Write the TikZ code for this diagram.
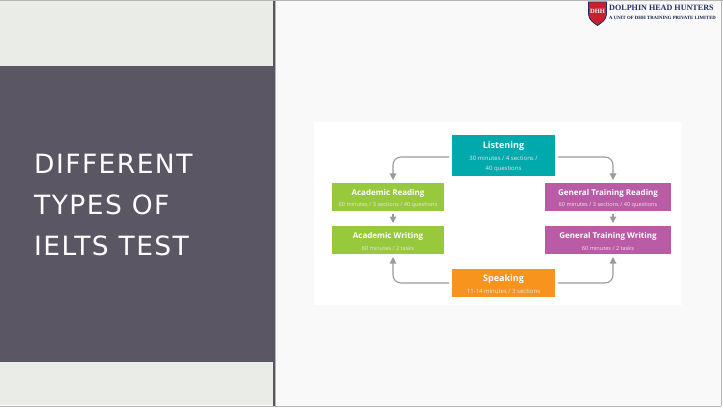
\documentclass[tikz,border=0pt]{standalone}
\usepackage{fontspec}
\setmainfont{Open Sans}
\newfontfamily\titlefont[LetterSpace=5.5]{DejaVu Sans}
\newfontfamily\logofont{Liberation Serif}
\usetikzlibrary{arrows.meta}
\definecolor{slatebg}{HTML}{5A5663}
\definecolor{palebg}{HTML}{EAECE8}
\definecolor{slidebg}{HTML}{F9F9F9}
\definecolor{edgegray}{HTML}{B4B4B4}
\definecolor{listenteal}{HTML}{00A9AC}
\definecolor{acadgreen}{HTML}{98C83C}
\definecolor{generalpink}{HTML}{BA5BA5}
\definecolor{speakorange}{HTML}{F7941D}
\definecolor{flowgray}{HTML}{9A9A9A}
\definecolor{logored}{HTML}{C8202C}
\definecolor{logonavy}{HTML}{1F2F6B}
\tikzset{
  testbox/.style={inner sep=0pt, outer sep=0pt, align=center, text=white, font=\bfseries\fontsize{8}{11}\selectfont},
  flow/.style={->, flowgray, line width=1.1pt, rounded corners=8pt, shorten <=3pt, shorten >=3pt},
}
\newcommand{\headline}[1]{\rule{0pt}{9.5pt}#1}
\newcommand{\subline}[1]{{\fontsize{5.6}{9}\selectfont\mdseries\color{white!82!gray}#1}}
\newcommand{\bigsubline}[1]{{\fontsize{6}{9}\selectfont\mdseries\color{white!82!gray}#1}}
\begin{document}
\begin{tikzpicture}[x=1pt, y=-1pt, >={Stealth[inset=0pt, length=6.5pt, width=6.5pt]}]
    \useasboundingbox (0, 0) rectangle (723, 409);
    \fill[white] (0, 0) rectangle (723, 409);

    \fill[slidebg] (276, 1) rectangle (721, 405);
    \fill[palebg] (0, 1) rectangle (272.5, 405);
    \fill[slatebg] (0, 66) rectangle (272.5, 362);
    \fill[slatebg] (272.5, 1) rectangle (275, 406);
    \fill[edgegray] (0, 0) rectangle (723, 1);
    \fill[edgegray] (275, 1) rectangle (276, 406);
    \fill[edgegray] (0, 405.5) rectangle (721, 406.5);
    \fill[edgegray] (720.5, 0) rectangle (721.5, 406);

    \node[anchor=west, text=white, align=left, inner sep=0pt, font=\titlefont\fontsize{26.5}{41}\selectfont] (title) at (34, 205)
        {DIFFERENT\\TYPES OF\\IELTS TEST};

    \fill[white] (314, 122) rectangle (682, 305);

    \node[testbox, fill=listenteal, minimum width=103pt, minimum height=41pt] (listen) at (503.5, 155.5)
        {\headline{\fontsize{9}{11}\selectfont Listening}\\[0.5pt]\bigsubline{30 minutes / 4 sections /}\\[-1pt]\bigsubline{40 questions}};
    \node[testbox, fill=acadgreen, minimum width=112pt, minimum height=28pt] (acread) at (388, 197)
        {\headline{Academic Reading}\\[0.5pt]\subline{60 minutes / 3 sections / 40 questions}};
    \node[testbox, fill=acadgreen, minimum width=112pt, minimum height=28pt] (acwrite) at (388, 240)
        {\headline{Academic Writing}\\[0.5pt]\subline{60 minutes / 2 tasks}};
    \node[testbox, fill=generalpink, minimum width=126pt, minimum height=28pt] (genread) at (608, 197)
        {\headline{General Training Reading}\\[0.5pt]\subline{60 minutes / 3 sections / 40 questions}};
    \node[testbox, fill=generalpink, minimum width=126pt, minimum height=28pt] (genwrite) at (608, 240)
        {\headline{General Training Writing}\\[0.5pt]\subline{60 minutes / 2 tasks}};
    \node[testbox, fill=speakorange, minimum width=103pt, minimum height=28pt] (speak) at (503.5, 283)
        {\headline{\fontsize{9}{11}\selectfont Speaking}\\[1pt]\bigsubline{11-14 minutes / 3 sections}};

    \draw[flow] ([yshift=-1.5pt]listen.west) -| ([xshift=5pt]acread.north);
    \draw[flow] ([yshift=-1.5pt]listen.east) -| ([xshift=5pt]genread.north);
    \draw[flow] ([xshift=5pt]acread.south) -- ([xshift=5pt]acwrite.north);
    \draw[flow] ([xshift=5pt]genread.south) -- ([xshift=5pt]genwrite.north);
    \draw[flow] (speak.west) -| ([xshift=5pt]acwrite.south);
    \draw[flow] (speak.east) -| ([xshift=5pt]genwrite.south);

    \fill[logored, draw=logonavy, line width=0.8pt] (588.5, 2) -- (606.5, 2) -- (606.5, 14)
        .. controls (606.5, 20) and (601, 23) .. (597.5, 25.5)
        .. controls (594, 23) and (588.5, 20) .. (588.5, 14) -- cycle;
    \node[text=white, inner sep=0pt, font=\logofont\bfseries\fontsize{6.5}{7}\selectfont] (shield) at (597.5, 11) {DHH};
    \node[anchor=west, text=logonavy, inner sep=0pt, font=\logofont\bfseries\fontsize{8.1}{9}\selectfont] (brand) at (609, 8) {DOLPHIN HEAD HUNTERS};
    \node[anchor=west, text=logonavy!70!black, inner sep=0pt, font=\logofont\bfseries\fontsize{4.8}{6}\selectfont] (unit) at (609, 18) {A UNIT OF DHH TRAINING PRIVATE LIMITED};
\end{tikzpicture}
\end{document}
